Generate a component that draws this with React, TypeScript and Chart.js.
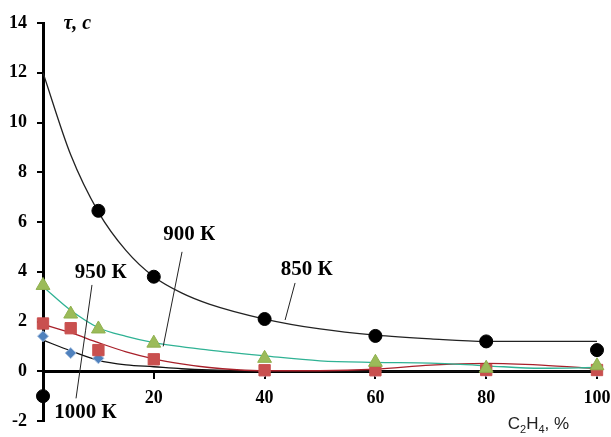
import { useEffect, useRef } from "react";
import { Chart, registerables } from "chart.js";

Chart.register(...registerables);

// Measured points: C2H4 content (%) vs. induction time τ (s)
const xs850 = [0, 10, 20, 40, 60, 80, 100];
const tau850 = [-1.0, 6.45, 3.8, 2.1, 1.42, 1.2, 0.85];
const xsAll = [0, 5, 10, 20, 40, 60, 80, 100];
const tau900 = [3.45, 2.3, 1.7, 1.13, 0.52, 0.36, 0.12, 0.22];
const tau950 = [1.92, 1.73, 0.85, 0.48, 0.04, 0.04, 0.05, 0.05];
const xs1000 = [0, 5, 10, 40, 60, 80, 100];
const tau1000 = [1.41, 0.73, 0.52, 0, 0, 0, 0];

// Trend curves
const fitX850 = [0, 5, 10, 15, 20, 25, 30, 40, 50, 60, 70, 80, 90, 100];
const fit850 = [12.0, 8.7, 6.4, 4.85, 3.8, 3.15, 2.7, 2.1, 1.7, 1.45, 1.3, 1.2, 1.2, 1.2];
const fitX900 = [0, 5, 10, 15, 20, 30, 40, 50, 60, 70, 80, 90, 100];
const fit900 = [3.4, 2.45, 1.75, 1.4, 1.15, 0.85, 0.62, 0.42, 0.36, 0.33, 0.22, 0.12, 0.15];
const fitX950 = [0, 5, 10, 15, 20, 25, 30, 35, 40, 50, 60, 70, 80, 90, 100];
const fit950 = [1.88, 1.55, 1.15, 0.78, 0.5, 0.3, 0.15, 0.06, 0.02, 0.02, 0.08, 0.25, 0.32, 0.25, 0.1];
const fitX1000 = [0, 5, 10, 15, 20, 25, 30, 40, 60, 80, 100];
const fit1000 = [1.25, 0.82, 0.44, 0.26, 0.18, 0.1, 0.05, 0, 0, 0, 0];

// Curve captions with leader lines (data coordinates)
const captionText = ["850 К", "900 К", "950 К", "1000 К"];
const captionX = [47.6, 26.4, 10.4, 7.67];
const captionY = [4.07, 5.48, 3.97, -1.67];
const leaderFromX = [45.5, 25.1, 8.84, 5.96];
const leaderFromY = [3.55, 4.8, 3.47, -1.09];
const leaderToX = [43.7, 21.7, 7.69, 7.69];
const leaderToY = [2.06, 1.0, 1.65, 1.65];

const xTicks = [20, 40, 60, 80, 100];
const yTitle = "τ, с";

const zip = (xs: number[], ys: number[]) => xs.map((x, i) => ({ x, y: ys[i] }));

const serif = "'Liberation Serif', 'Times New Roman', serif";
const sans = "'Liberation Sans', Arial, sans-serif";

const captionsPlugin = {
  id: "captions",
  afterDatasetsDraw(chart: any) {
    const { ctx, scales } = chart;
    const sx = scales.x;
    const sy = scales.y;
    ctx.save();
    // leader lines
    ctx.strokeStyle = "#222";
    ctx.lineWidth = 1;
    for (let i = 0; i < captionText.length; i++) {
      ctx.beginPath();
      ctx.moveTo(sx.getPixelForValue(leaderFromX[i]), sy.getPixelForValue(leaderFromY[i]));
      ctx.lineTo(sx.getPixelForValue(leaderToX[i]), sy.getPixelForValue(leaderToY[i]));
      ctx.stroke();
    }
    // captions
    ctx.fillStyle = "#000";
    ctx.textAlign = "center";
    ctx.textBaseline = "middle";
    ctx.font = `bold 21px ${serif}`;
    for (let i = 0; i < captionText.length; i++) {
      ctx.fillText(captionText[i], sx.getPixelForValue(captionX[i]), sy.getPixelForValue(captionY[i]));
    }
    // y-axis title
    ctx.font = `italic bold 20px ${serif}`;
    ctx.textAlign = "left";
    ctx.fillText(yTitle, sx.getPixelForValue(3.7), sy.getPixelForValue(13.95));
    // x-axis title with subscripts: C2H4, %
    const bx = sx.getPixelForValue(83.9);
    const by = sy.getPixelForValue(-2.14);
    ctx.fillStyle = "#222";
    const parts: [string, boolean][] = [["C", false], ["2", true], ["H", false], ["4", true], [", %", false]];
    let cx = bx;
    for (const [t, sub] of parts) {
      ctx.font = sub ? `11px ${sans}` : `17px ${sans}`;
      ctx.fillText(t, cx, sub ? by + 5 : by);
      cx += ctx.measureText(t).width;
    }
    ctx.restore();
  },
};

export default function App() {
  const ref = useRef<HTMLCanvasElement | null>(null);

  useEffect(() => {
    document.body.style.margin = "0";
    if (!ref.current) return;
    const lineBase = {
      type: "line" as const,
      pointRadius: 0,
      borderWidth: 1.3,
      fill: false,
      cubicInterpolationMode: "monotone" as const,
    };
    const chart = new Chart(ref.current, {
      type: "scatter",
      data: {
        datasets: [
          {
            label: "850 К",
            data: zip(xs850, tau850),
            backgroundColor: "#000",
            borderColor: "#000",
            pointStyle: "circle",
            pointRadius: 6.5,
            clip: false,
            order: 1,
          },
          {
            label: "900 К",
            data: zip(xsAll, tau900),
            backgroundColor: "#9bbb59",
            borderColor: "#8fb04e",
            pointStyle: "triangle",
            pointRadius: 8,
            clip: false,
            order: 2,
          },
          {
            label: "950 К",
            data: zip(xsAll, tau950),
            backgroundColor: "#c9504f",
            borderColor: "#c9504f",
            pointStyle: "rect",
            pointRadius: 8,
            clip: false,
            order: 3,
          },
          {
            label: "1000 К",
            data: zip(xs1000, tau1000),
            backgroundColor: "#4f81bd",
            borderColor: "#a9c2e2",
            borderWidth: 1,
            pointStyle: "rectRot",
            pointRadius: 5.5,
            clip: false,
            order: 4,
          },
          { ...lineBase, label: "fit 850", data: zip(fitX850, fit850), borderColor: "#222", order: 10 },
          { ...lineBase, label: "fit 900", data: zip(fitX900, fit900), borderColor: "#2fb294", order: 11 },
          { ...lineBase, label: "fit 950", data: zip(fitX950, fit950), borderColor: "#a8202a", order: 12 },
          { ...lineBase, label: "fit 1000", data: zip(fitX1000, fit1000), borderColor: "#111", order: 13 },
        ] as any,
      },
      options: {
        animation: false,
        responsive: false,
        layout: { padding: { left: 0, top: 23, right: 14, bottom: 16 } },
        plugins: { legend: { display: false }, tooltip: { enabled: false } },
        scales: {
          x: {
            type: "linear",
            position: { y: 0 } as any,
            min: 0,
            max: 100,
            afterBuildTicks: (s: any) => {
              s.ticks = [0, ...xTicks].map((v) => ({ value: v }));
            },
            afterFit: (s: any) => {
              s.paddingLeft = 0;
              s.paddingRight = 0;
              s.paddingTop = 0;
              s.paddingBottom = 0;
            },
            ticks: {
              callback: (v: any) => (v === 0 ? "" : String(v)),
              color: "#000",
              padding: 10,
              maxRotation: 0,
              font: { family: serif, size: 18, weight: "bold" },
            },
            grid: {
              display: true,
              drawOnChartArea: false,
              drawTicks: true,
              tickLength: 6,
              color: "#000",
              lineWidth: 2,
            },
            border: { display: true, color: "#000", width: 3 },
          },
          y: {
            type: "linear",
            min: -2,
            max: 14,
            afterFit: (s: any) => {
              s.width = 43;
              s.paddingTop = 0;
              s.paddingBottom = 0;
            },
            ticks: {
              stepSize: 2,
              color: "#000",
              padding: 10,
              font: { family: serif, size: 18, weight: "bold" },
            },
            grid: {
              display: true,
              drawOnChartArea: false,
              drawTicks: true,
              tickLength: 6,
              color: "#000",
              lineWidth: 2,
            },
            border: { display: true, color: "#000", width: 3 },
          },
        },
      } as any,
      plugins: [captionsPlugin],
    });
    return () => chart.destroy();
  }, []);

  return (
    <div style={{ position: "absolute", left: 0, top: 0, width: 611, height: 437, background: "#fff" }}>
      <canvas ref={ref} width={611} height={437} style={{ width: 611, height: 437, display: "block" }} />
    </div>
  );
}
